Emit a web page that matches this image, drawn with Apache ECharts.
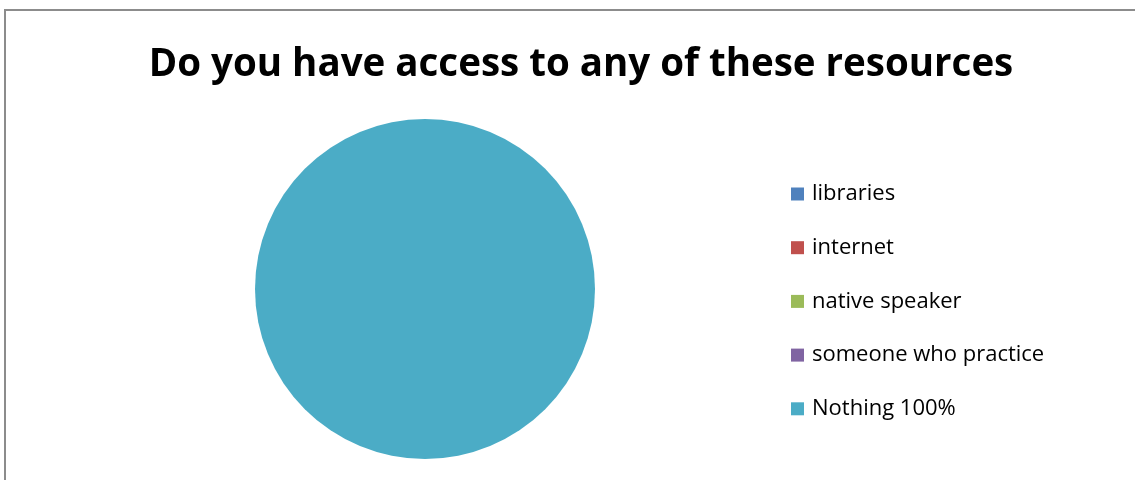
<!DOCTYPE html>
<html>
<head>
<meta charset="utf-8">
<script src="https://cdn.jsdelivr.net/npm/echarts@6/dist/echarts.min.js"></script>
<style>
  html, body { margin: 0; padding: 0; background: #fff; }
  #chart { width: 1135px; height: 480px; }
</style>
</head>
<body>
<div id="chart"></div>
<script>
// Survey answers: share of respondents with access to each resource
const categories = ['libraries', 'internet', 'native speaker', 'someone who practice', 'Nothing 100%'];
const values = [0, 0, 0, 0, 100];
const colors = ['#4F81BD', '#C0504D', '#9BBB59', '#8064A2', '#4BACC6'];
const titleText = 'Do you have access to any of these resources';

const chart = echarts.init(document.getElementById('chart'), null, { renderer: 'canvas' });

chart.setOption({
  backgroundColor: '#ffffff',
  animation: false,
  title: {
    text: titleText,
    left: 576,
    textAlign: 'center',
    top: 41,
    textStyle: {
      fontFamily: 'Open Sans',
      fontWeight: 'bold',
      fontSize: 38.5,
      color: '#000000'
    }
  },
  graphic: [{
    type: 'rect',
    shape: { x: 5, y: 10, width: 1400, height: 800 },
    style: { fill: 'none', stroke: '#8c8c8c', lineWidth: 2 },
    silent: true
  }],
  legend: {
    orient: 'vertical',
    left: 786,
    top: 177,
    itemWidth: 13,
    itemHeight: 13,
    itemGap: 29.7,
    icon: 'rect',
    textStyle: {
      fontFamily: 'Open Sans',
      fontSize: 22,
      lineHeight: 24,
      color: '#000000',
      padding: [0, 0, 0, 3]
    },
    data: categories
  },
  series: [{
    type: 'pie',
    center: [425, 289],
    radius: 170,
    startAngle: 90,
    clockwise: true,
    label: { show: false },
    labelLine: { show: false },
    itemStyle: { borderWidth: 0 },
    emphasis: { disabled: true },
    data: categories.map((name, i) => ({
      name,
      value: values[i],
      itemStyle: { color: colors[i] }
    }))
  }]
});
</script>
</body>
</html>
